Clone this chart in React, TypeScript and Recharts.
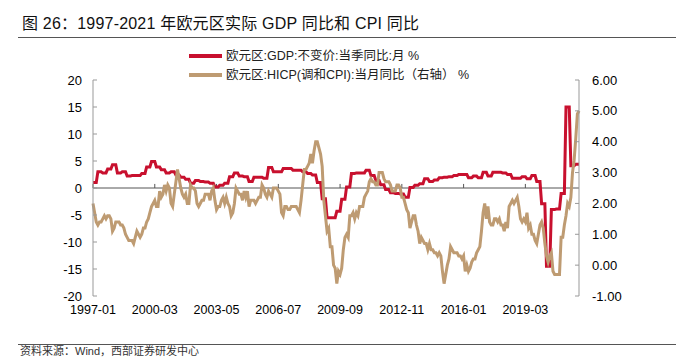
import { LineChart, Line, XAxis, YAxis, ReferenceLine } from "recharts";

// 月份标签 1997-01 ~ 2021-12
const months: string[] = [];
for (let y = 1997; y <= 2021; y++) {
  for (let m = 1; m <= 12; m++) months.push(`${y}-${String(m).padStart(2, "0")}`);
}

// 欧元区 GDP 不变价 当季同比（%），按季度，每季对应 3 个月
const gdpQuarterly = [
  1.0, 3.0, 2.8, 3.5,
  4.3, 2.8, 3.0, 2.2,
  2.3, 2.3, 2.7, 3.9,
  4.9, 3.9, 3.4, 2.8,
  3.0, 2.4, 2.0, 1.6,
  0.9, 1.4, 1.2, 1.1,
  0.9, 0.2, 0.5, 0.9,
  2.1, 2.8, 2.2, 2.1,
  1.2, 2.0, 2.0, 1.8,
  3.8, 3.0, 3.0, 3.6,
  3.6, 3.3, 3.3, 3.0,
  2.7, 2.4, 1.0, -2.0,
  -5.5, -5.5, -4.3, -2.1,
  0.2, 2.7, 2.8, 2.8,
  3.3, 2.3, 1.4, 0.6,
  -0.3, -0.9, -1.0, -1.1,
  -1.7, 0.1, 0.5, 0.8,
  1.7, 1.2, 1.5, 1.9,
  2.0, 2.1, 2.3, 2.5,
  2.5, 1.9, 2.2, 1.9,
  2.9, 2.2, 2.9, 2.9,
  2.8, 2.5, 1.8, 1.8,
  2.1, 1.7, 2.3, 1.2,
  -2.9, -14.5, -4.0, -3.9,
  -1.0, 15.0, 4.1, 4.4,
];

// 欧元区 HICP 当月同比（%，右轴）
const hicpMonthly = [
  2.0, 1.7, 1.4, 1.3, 1.4, 1.4, 1.5, 1.6, 1.5, 1.6, 1.6, 1.5,
  1.1, 1.2, 1.4, 1.4, 1.4, 1.3, 1.3, 1.2, 1.0, 0.9, 0.8, 0.8,
  0.8, 0.7, 0.9, 1.1, 1.0, 0.9, 1.0, 1.2, 1.2, 1.4, 1.5, 1.7,
  1.9, 2.0, 2.1, 1.9, 1.9, 2.4, 2.2, 2.3, 2.6, 2.4, 2.6, 2.5,
  2.0, 1.9, 2.3, 2.7, 3.1, 2.8, 2.5, 2.3, 2.2, 2.3, 2.0, 2.0,
  2.6, 2.5, 2.5, 2.4, 2.0, 1.9, 2.0, 2.1, 2.1, 2.3, 2.3, 2.3,
  2.1, 2.4, 2.5, 2.1, 1.8, 1.9, 1.9, 2.1, 2.2, 2.0, 2.2, 2.0,
  1.9, 1.6, 1.7, 2.0, 2.5, 2.4, 2.3, 2.3, 2.1, 2.4, 2.2, 2.4,
  1.9, 2.1, 2.1, 2.1, 2.0, 2.1, 2.2, 2.2, 2.6, 2.5, 2.3, 2.2,
  2.4, 2.3, 2.2, 2.5, 2.5, 2.5, 2.4, 2.3, 1.7, 1.6, 1.9, 1.9,
  1.8, 1.8, 1.9, 1.9, 1.9, 1.9, 1.8, 1.7, 2.1, 2.6, 3.1, 3.1,
  3.2, 3.3, 3.6, 3.3, 3.7, 4.0, 4.0, 3.8, 3.6, 3.2, 2.1, 1.6,
  1.1, 1.2, 0.6, 0.6, 0.0, -0.1, -0.6, -0.2, -0.3, -0.1, 0.5, 0.9,
  1.0, 0.9, 1.6, 1.6, 1.7, 1.5, 1.7, 1.6, 1.9, 1.9, 1.9, 2.2,
  2.3, 2.4, 2.7, 2.8, 2.7, 2.7, 2.6, 2.6, 3.0, 3.0, 3.0, 2.8,
  2.7, 2.7, 2.7, 2.6, 2.4, 2.4, 2.4, 2.6, 2.6, 2.5, 2.2, 2.2,
  2.0, 1.8, 1.7, 1.2, 1.4, 1.6, 1.6, 1.3, 1.1, 0.7, 0.9, 0.8,
  0.7, 0.7, 0.5, 0.7, 0.5, 0.5, 0.4, 0.4, 0.3, 0.4, 0.3, -0.2,
  -0.6, -0.3, 0.0, 0.2, 0.6, 0.5, 0.4, 0.4, 0.4, 0.3, 0.3, 0.2,
  0.3, -0.2, 0.0, -0.2, -0.1, 0.1, 0.2, 0.2, 0.4, 0.5, 0.6, 1.1,
  1.7, 2.0, 1.5, 1.9, 1.4, 1.3, 1.3, 1.5, 1.5, 1.4, 1.5, 1.3,
  1.3, 1.1, 1.4, 1.2, 1.9, 2.0, 2.1, 2.0, 2.1, 2.2, 1.9, 1.5,
  1.4, 1.5, 1.4, 1.7, 1.2, 1.3, 1.0, 1.0, 0.8, 0.7, 1.0, 1.3,
  1.4, 1.2, 0.7, 0.3, 0.1, 0.3, 0.4, -0.2, -0.3, -0.3, -0.3, -0.3,
  0.9, 0.9, 1.3, 1.6, 2.0, 1.9, 2.2, 3.0, 3.4, 4.1, 4.9, 5.0,
];

const xTickLabels = ["1997-01", "2000-03", "2003-05", "2006-07", "2009-09", "2012-11", "2016-01", "2019-03"];
const leftTicks = [-20, -15, -10, -5, 0, 5, 10, 15, 20];
const rightTicks = [-1, 0, 1, 2, 3, 4, 5, 6];

const data = months.map((month, i) => ({
  month,
  gdp: gdpQuarterly[Math.floor(i / 3)],
  hicp: hicpMonthly[i],
}));

const RED = "#C8102E";
const TAN = "#BE9B72";
const FONT = '"Liberation Sans", Arial, "Noto Sans CJK SC", sans-serif';

export default function App() {
  return (
    <div style={{ position: "absolute", left: 0, top: 0, width: 682, height: 357, background: "#fff", fontFamily: FONT, overflow: "hidden" }}>
      <div style={{ position: "absolute", left: 22, top: 14, fontSize: 16, lineHeight: "20px", color: "#111", whiteSpace: "nowrap", letterSpacing: 0.2 }}>
        图 26：1997-2021 年欧元区实际 GDP 同比和 CPI 同比
      </div>
      <div style={{ position: "absolute", left: 18, top: 37, width: 658, height: 1, background: "#555" }} />

      {/* 图例 */}
      <div style={{ position: "absolute", left: 189, top: 54, width: 33, height: 4, background: RED }} />
      <div style={{ position: "absolute", left: 226, top: 48, fontSize: 12.5, lineHeight: "16px", color: "#222", whiteSpace: "nowrap" }}>
        欧元区:GDP:不变价:当季同比:月 %
      </div>
      <div style={{ position: "absolute", left: 189, top: 73, width: 33, height: 4, background: TAN }} />
      <div style={{ position: "absolute", left: 226, top: 67, fontSize: 12.5, lineHeight: "16px", color: "#222", whiteSpace: "nowrap" }}>
        欧元区:HICP(调和CPI):当月同比（右轴） %
      </div>

      <div style={{ position: "absolute", left: 0, top: 0 }}>
        <LineChart width={682} height={357} data={data} margin={{ top: 80, right: 43, bottom: 31, left: 33 }}>
          <XAxis
            dataKey="month"
            ticks={xTickLabels}
            interval={0}
            axisLine={false}
            tickLine={false}
            height={30}
            tickMargin={3}
            tick={{ fill: "#000", fontSize: 12.5, fontFamily: FONT }}
          />
          <YAxis
            yAxisId="left"
            domain={[-20, 20]}
            ticks={leftTicks}
            interval={0}
            width={60}
            axisLine={{ stroke: "#999" }}
            tickLine={{ stroke: "#999" }}
            tickSize={-4}
            tickMargin={15}
            tick={{ fill: "#000", fontSize: 13, fontFamily: FONT }}
          />
          <YAxis
            yAxisId="right"
            orientation="right"
            domain={[-1, 6]}
            ticks={rightTicks}
            interval={0}
            width={60}
            axisLine={{ stroke: "#999" }}
            tickLine={{ stroke: "#999" }}
            tickSize={-4}
            tickMargin={17}
            tickFormatter={(v: number) => v.toFixed(2)}
            tick={{ fill: "#000", fontSize: 13, fontFamily: FONT }}
          />
          <ReferenceLine yAxisId="left" y={0} stroke="#555" strokeWidth={1} />
          {xTickLabels.map((t) => (
            <ReferenceLine
              key={t}
              yAxisId="left"
              segment={[{ x: t, y: 0 }, { x: t, y: 0.75 }]}
              stroke="#555"
              strokeWidth={1}
            />
          ))}
          <Line yAxisId="left" type="linear" dataKey="gdp" stroke={RED} strokeWidth={3} dot={false} isAnimationActive={false} />
          <Line yAxisId="right" type="linear" dataKey="hicp" stroke={TAN} strokeWidth={3} dot={false} isAnimationActive={false} />
        </LineChart>
      </div>

      <div style={{ position: "absolute", left: 18, top: 344, width: 658, height: 1, background: "#555" }} />
      <div style={{ position: "absolute", left: 20, top: 345, fontSize: 11, lineHeight: "12px", color: "#333", whiteSpace: "nowrap" }}>
        资料来源：Wind，西部证券研发中心
      </div>
    </div>
  );
}
